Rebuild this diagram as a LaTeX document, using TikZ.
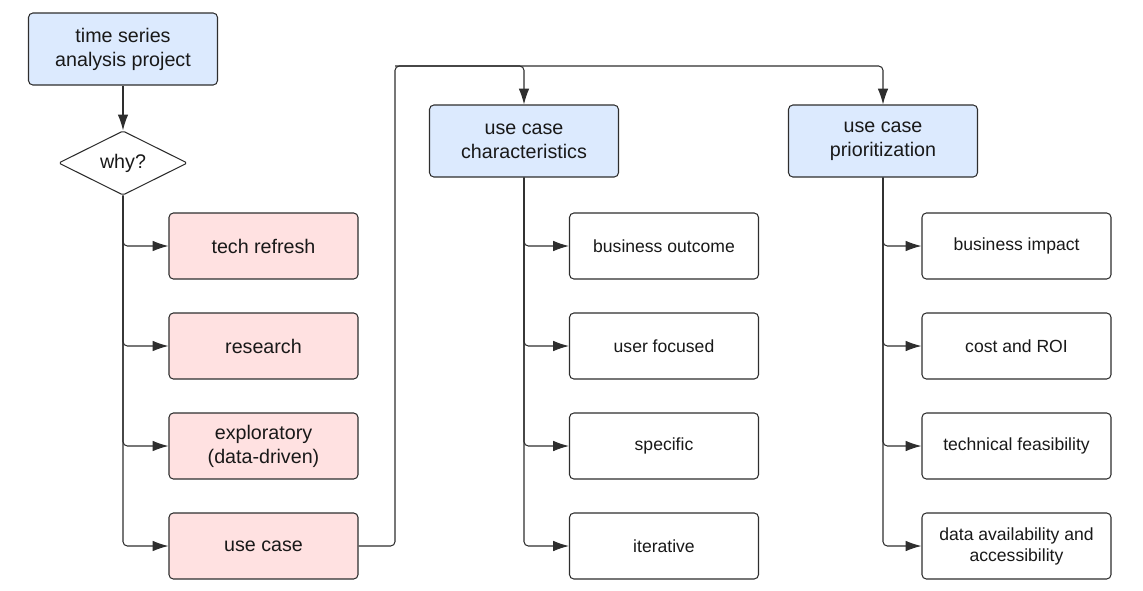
\documentclass[tikz,border=0pt]{standalone}
\usepackage{fontspec}
\setmainfont{Liberation Sans}
\usepackage{tikz}
\usetikzlibrary{positioning, shapes.geometric, arrows.meta}
\definecolor{boxblue}{HTML}{DCEAFE}
\definecolor{boxpink}{HTML}{FFE1E1}
\definecolor{linegray}{HTML}{2E2E2E}
\tikzset{
>={Latex[length=9pt,width=6pt]}, % filled triangle heads
on grid, % distances are measured between centres
every node/.style={text=black!90},
box/.style={draw=linegray, line width=0.6pt, rounded corners=2.5pt, align=center,
  minimum width=3.78cm, minimum height=1.32cm, inner sep=2pt},
topic/.style={box, fill=boxblue, minimum height=1.44cm, font=\fontsize{11.2}{13.6}\selectfont},
reason/.style={box, fill=boxpink, font=\fontsize{11.2}{13.6}\selectfont},
item/.style={box, fill=white, font=\fontsize{10}{11.9}\selectfont},
decision/.style={diamond, draw=linegray, line width=0.6pt, rounded corners=1pt, inner sep=0pt,
  minimum width=2.58cm, minimum height=1.22cm, font=\fontsize{11.2}{13.6}\selectfont},
link/.style={->, draw=linegray, line width=0.6pt, rounded corners=2.5pt},
}

\begin{document}
\begin{tikzpicture}
\useasboundingbox (0,0) rectangle (22.86,-11.8);
% left column
\node[topic] (proj) at (2.46,-0.98) {time series\\analysis project};
\node[decision, below=2.28 of proj] (why) {why?};
\node[reason, below right=1.66 and 2.81 of why] (tech) {tech refresh};
\node[reason, below=2 of tech] (research) {research};
\node[reason, below=2 of research] (explore) {exploratory\\(data-driven)};
\node[reason, below=2 of explore] (usecase) {use case};
% use case columns
\node[topic] (char) at (10.48,-2.82) {use case\\characteristics};
\node[topic, right=7.18 of char] (prio) {use case\\prioritization};
\node[item, below right=2.1 and 2.8 of char] (outcome) {business outcome};
\node[item, below=2 of outcome] (user) {user focused};
\node[item, below=2 of user] (specific) {specific};
\node[item, below=2 of specific] (iter) {iterative};
\node[item, below right=2.1 and 2.67 of prio] (impact) {business impact};
\node[item, below=2 of impact] (roi) {cost and ROI};
\node[item, below=2 of roi] (feas) {technical feasibility};
\node[item, below=2 of feas] (avail) {data availability and\\accessibility};
\coordinate (rail) at (7.9,-1.32);

\draw[link] (proj) -- (why);
\foreach \t in {tech, research, explore, usecase}
  \draw[link] (why.south) |- (\t.west);
\draw[link] (usecase.east) -| (rail) -| (char.north);
\draw[link] (rail) -| (prio.north);
\foreach \t in {outcome, user, specific, iter}
  \draw[link] (char.south) |- (\t.west);
\foreach \t in {impact, roi, feas, avail}
  \draw[link] (prio.south) |- (\t.west);
\end{tikzpicture}
\end{document}
